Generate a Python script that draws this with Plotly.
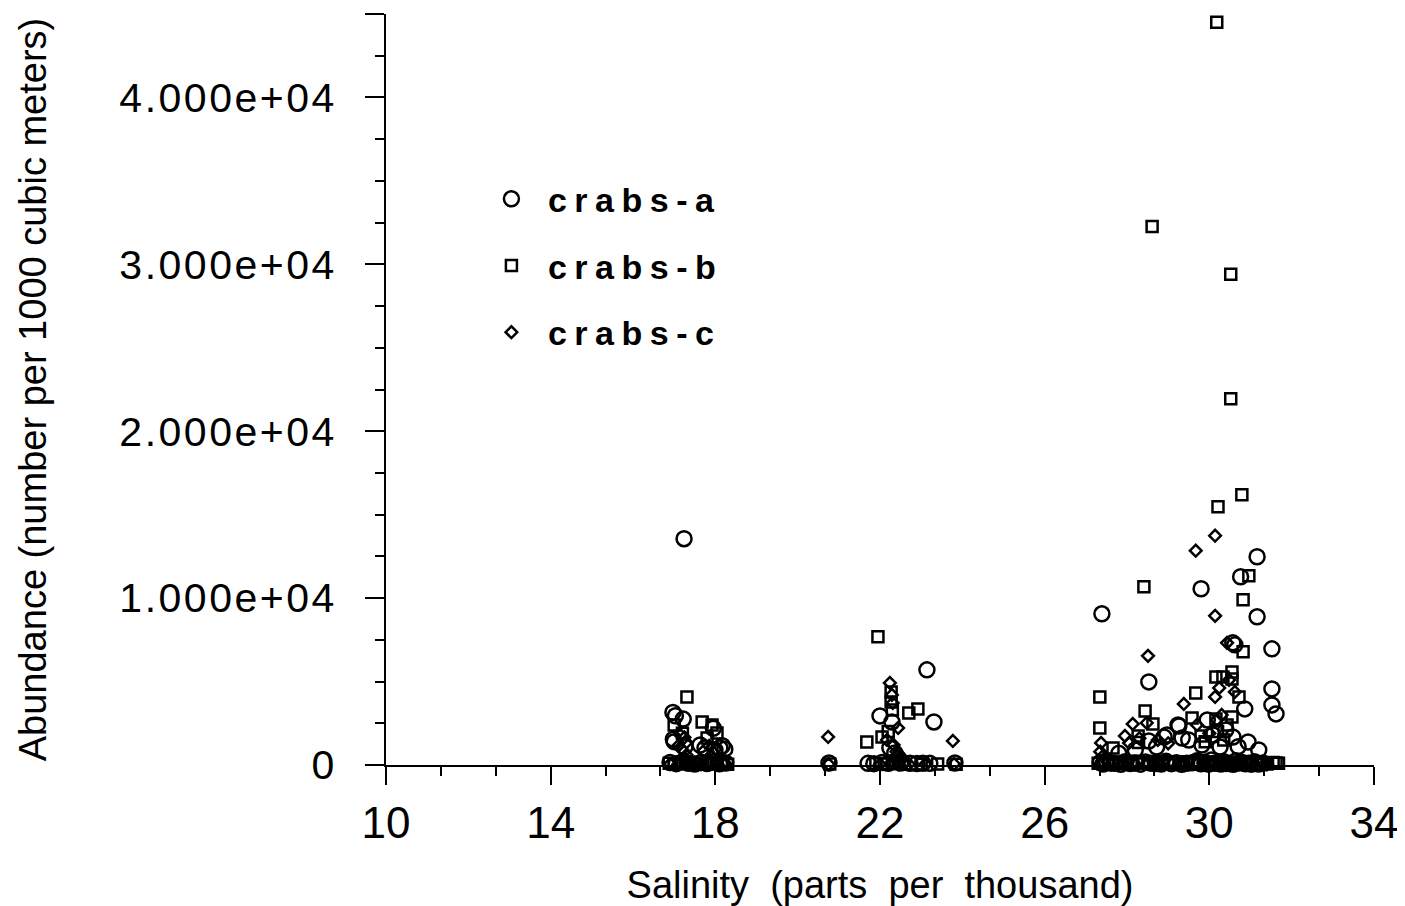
import plotly.graph_objects as go

# ---------------- data ----------------
crabs_a_x = [17.24, 16.97, 17.03, 17.22, 16.98, 17.00, 17.26, 17.95, 18.11, 18.23, 17.99, 17.75, 17.63, 18.17,
             16.90, 17.05, 17.20, 17.35, 17.50, 17.65, 17.80, 17.95, 18.10, 18.25,
             23.14, 23.31, 22.00, 22.29, 22.24, 22.36, 22.45,
             20.76, 21.71, 21.85, 22.05, 22.20, 22.50, 22.73, 22.90, 23.04, 23.21, 23.82,
             27.39, 29.80, 31.16, 30.76, 31.16, 28.53, 31.52, 31.52, 31.52, 31.62, 30.86, 30.57, 30.62,
             29.24, 30.57, 30.94, 31.20, 28.97, 28.53, 28.72, 30.09, 29.82, 29.26, 28.90, 29.34, 30.26,
             29.95, 30.40, 29.50, 30.70, 28.20, 27.80,
             27.35, 27.50, 27.70, 27.95, 28.20, 28.45, 28.70, 28.95, 29.20, 29.45, 29.70, 29.90, 30.05,
             30.20, 30.35, 30.50, 30.65, 30.80, 30.95, 31.10, 31.30,
             27.42, 27.60, 27.85, 28.08, 28.33, 28.58, 28.83, 29.08, 29.33, 29.58, 29.80, 29.98, 30.12,
             30.28, 30.42, 30.58, 30.72, 30.88, 31.02, 31.20]
crabs_a_y = [13560, 3150, 2950, 2750, 1550, 1400, 1080, 2200, 1020, 950, 900, 1020, 1200, 1150,
             150, 80, 200, 100, 60, 150, 90, 180, 70, 120,
             5700, 2580, 2940, 2580, 1020, 720, 400,
             120, 100, 80, 150, 100, 120, 100, 90, 110, 100, 120,
             9060, 10560, 12480, 11280, 8880, 4980, 6960, 4560, 3600, 3060, 3360, 7320, 7200,
             2400, 1680, 1380, 900, 1800, 1440, 1080, 1800, 1200, 2340, 1680, 1620, 1080,
             2700, 2100, 1500, 1100, 900, 700,
             150, 250, 100, 200, 120, 180, 90, 220, 140, 100, 250, 160, 300,
             120, 200, 90, 260, 150, 100, 200, 120,
             60, 120, 40, 90, 50, 110, 60, 80, 40, 130, 70, 50, 100,
             60, 90, 40, 120, 70, 50, 60]

crabs_b_x = [17.31, 17.00, 17.68, 17.92, 18.04, 17.80, 17.20,
             16.88, 17.00, 17.15, 17.30, 17.40, 17.60, 17.75, 17.90, 18.05, 18.20, 18.30,
             21.95, 22.70, 22.92, 21.68, 22.05, 22.27, 22.27, 22.30, 22.20,
             20.78, 21.90, 22.10, 22.30, 22.45, 22.60, 23.00, 23.40, 23.85,
             30.18, 28.61, 30.52, 30.52, 30.21, 30.79, 28.41, 30.96, 30.82, 30.82, 30.16, 30.33, 30.55,
             30.55, 29.67, 27.34, 30.72, 28.44, 28.63, 30.55, 29.58, 30.16, 27.34, 28.27, 29.80, 30.43,
             27.66, 28.28, 30.20, 30.35, 29.90,
             27.30, 27.55, 27.80, 28.10, 28.40, 28.70, 29.00, 29.30, 29.60, 29.85, 30.00, 30.15, 30.30,
             30.45, 30.60, 30.75, 30.90, 31.05, 31.20, 31.40, 31.55, 31.62, 31.68,
             27.42, 27.68, 27.95, 28.25, 28.55, 28.85, 29.15, 29.45, 29.72, 30.08, 30.38, 30.68, 30.98, 31.30]
crabs_b_y = [4080, 2400, 2580, 2400, 1920, 1620, 1900,
             100, 50, 120, 80, 150, 60, 100, 130, 60, 90, 40,
             7680, 3120, 3360, 1380, 1680, 4380, 3780, 3300, 2000,
             60, 90, 60, 110, 70, 50, 40, 60, 50,
             44500, 32260, 29400, 21950, 15470, 16200, 10680, 11340, 9900, 6780, 5280, 5280, 5580,
             5160, 4320, 4080, 4080, 3240, 2460, 2880, 2820, 2760, 2220, 1740, 1740, 2400,
             1020, 1350, 2000, 1500, 1400,
             100, 60, 80, 50, 120, 70, 90, 60, 100, 50, 130, 70, 90,
             60, 110, 50, 80, 60, 40, 60, 150, 120, 100,
             200, 150, 180, 220, 160, 200, 140, 190, 250, 170, 210, 160, 190, 140]

crabs_c_x = [17.15, 17.25, 17.30, 17.10, 17.20, 17.85, 18.00, 17.70, 17.30,
             16.90, 17.10, 17.30, 17.45, 17.65, 17.85, 18.05, 18.25,
             20.74, 23.77, 22.24, 22.29, 22.31, 22.44, 22.17, 22.33, 22.40, 22.50,
             20.75, 22.00, 22.25, 22.45, 22.70, 23.10, 23.80,
             30.14, 29.67, 30.14, 28.51, 30.43, 30.24, 30.14, 30.62, 30.48, 29.38, 28.14, 28.48,
             27.95, 27.37, 28.05, 30.18, 29.70, 27.35, 27.40, 28.30, 28.75, 29.00, 30.30, 30.00,
             27.35, 27.60, 27.90, 28.20, 28.50, 28.80, 29.10, 29.40, 29.70, 30.00, 30.25, 30.50,
             30.80, 31.10, 31.40]
crabs_c_y = [1800, 1650, 1350, 1150, 900, 1150, 950, 800, 600,
             60, 40, 80, 30, 50, 70, 40, 60,
             1680, 1440, 4920, 4200, 3720, 2220, 1500, 1200, 800, 500,
             50, 40, 60, 30, 50, 40, 60,
             13740, 12840, 8940, 6540, 7320, 4620, 4080, 4380, 5100, 3660, 2460, 2520,
             1740, 1320, 1320, 2700, 2400, 800, 500, 1600, 1500, 1300, 3000, 1900,
             60, 40, 70, 50, 80, 40, 60, 30, 70, 50, 80, 40,
             60, 50, 40]

series_names = ["crabs-a", "crabs-b", "crabs-c"]

x_tick_vals = [10, 14, 18, 22, 26, 30, 34]
x_tick_text = ["10", "14", "18", "22", "26", "30", "34"]
y_tick_vals = [0, 10000, 20000, 30000, 40000, 45000]
y_tick_text = ["0", "1.000e+04", "2.000e+04", "3.000e+04", "4.000e+04", ""]

x_title = "Salinity  (parts  per  thousand)"
y_title = "Abundance (number per 1000 cubic meters)"

# ---------------- figure ----------------
FONT = "Liberation Sans, Arial, Helvetica, sans-serif"


def spaced(txt, px):
    return '<span style="letter-spacing:%spx">%s</span>' % (px, txt) if txt else txt


fig = go.Figure()
styles = [("circle-open", 15), ("square-open", 11), ("diamond-open", 9)]
for name, xs, ys, (sym, sz) in zip(series_names,
                                   [crabs_a_x, crabs_b_x, crabs_c_x],
                                   [crabs_a_y, crabs_b_y, crabs_c_y],
                                   styles):
    fig.add_trace(go.Scatter(
        x=xs, y=ys, mode="markers", name=spaced(name, 7.5), legendgroup=name,
        cliponaxis=False,
        marker=dict(symbol=sym, size=sz, color="black", line=dict(width=2.5, color="black")),
    ))

# page body has an 8px margin: figure is sized/placed to compensate
fig.update_layout(
    width=1397, height=898,
    margin=dict(l=378, r=31, t=6, b=141),
    paper_bgcolor="white", plot_bgcolor="white",
    font=dict(family=FONT, color="black"),
    showlegend=True,
    legend=dict(
        x=0.090, y=0.792, xanchor="left", yanchor="top",
        traceorder="grouped", tracegroupgap=19.5,
        itemwidth=63,
        font=dict(family=FONT, size=34, color="black", weight="bold"),
        bgcolor="rgba(0,0,0,0)",
    ),
)

fig.update_xaxes(
    range=[10, 34], showgrid=False, zeroline=False, automargin=False,
    showline=True, linecolor="black", linewidth=2,
    ticks="outside", ticklen=18, tickwidth=2, tickcolor="black",
    tickvals=x_tick_vals, ticktext=x_tick_text,
    tickfont=dict(family=FONT, size=44, color="black"),
    ticklabelstandoff=0,
    minor=dict(tick0=10, dtick=4 / 3, ticks="outside", ticklen=9, tickwidth=2, tickcolor="black"),
    title=dict(text=x_title, font=dict(family=FONT, size=38, color="black"), standoff=26),
)
fig.update_yaxes(
    range=[0, 45000], showgrid=False, zeroline=False, automargin=False,
    showline=True, linecolor="black", linewidth=2,
    ticks="outside", ticklen=19, tickwidth=2, tickcolor="black",
    tickvals=y_tick_vals, ticktext=[spaced(t, 2.5) for t in y_tick_text],
    tickfont=dict(family=FONT, size=41, color="black"),
    ticklabelstandoff=20,
    minor=dict(tick0=0, dtick=2500, ticks="outside", ticklen=9, tickwidth=2, tickcolor="black"),
    title=dict(text=y_title, font=dict(family=FONT, size=38, color="black"), standoff=61),
)

fig.write_html("out.html")
